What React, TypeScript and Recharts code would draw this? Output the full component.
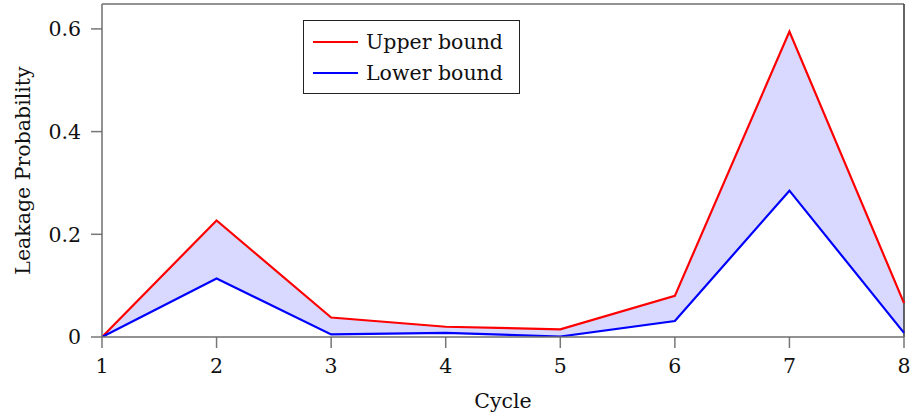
import {
  ComposedChart,
  Area,
  Line,
  XAxis,
  YAxis,
  ReferenceLine,
} from "recharts";

// values
const cycles = [1, 2, 3, 4, 5, 6, 7, 8];
const upperBound = [0, 0.227, 0.038, 0.02, 0.015, 0.08, 0.595, 0.066];
const lowerBound = [0, 0.114, 0.005, 0.008, 0.001, 0.031, 0.285, 0.008];
const yTicks = [0, 0.2, 0.4, 0.6];
const yMax = 0.6485;

const data = cycles.map((c, i) => ({
  cycle: c,
  upper: upperBound[i],
  lower: lowerBound[i],
  band: [lowerBound[i], upperBound[i]],
}));

const font = "'DejaVu Serif', serif";
const frame = "#6e6e6e";
const tickGray = "#777777";
// outward tick length, expressed in axis units (about 11px)
const xTickLen = 0.0215;
const yTickLen = 0.096;

const LegendBox = () => (
  <div
    style={{
      position: "absolute",
      left: 303,
      top: 20,
      border: "1px solid #222",
      background: "#fff",
      width: 215,
      height: 72,
      fontFamily: font,
      fontSize: 20.5,
      color: "#111",
    }}
  >
    {[
      { name: "Upper bound", color: "#ff0000" },
      { name: "Lower bound", color: "#0000ff" },
    ].map((item, i) => (
      <div
        key={item.name}
        style={{
          display: "flex",
          alignItems: "center",
          height: 31.6,
          marginTop: i === 0 ? 5 : 0,
          paddingLeft: 9,
        }}
      >
        <div style={{ width: 45, height: 2, background: item.color }} />
        <span style={{ marginLeft: 8 }}>{item.name}</span>
      </div>
    ))}
  </div>
);

const App = () => {
  return (
    <div
      style={{
        position: "absolute",
        left: 0,
        top: 0,
        width: 913,
        height: 412,
        background: "#fff",
      }}
    >
      <ComposedChart
        width={913}
        height={412}
        data={data}
        margin={{ top: 4, right: 9, left: 0, bottom: 0 }}
      >
        <XAxis
          dataKey="cycle"
          type="number"
          domain={[1, 8]}
          ticks={cycles}
          height={75}
          tickSize={10}
          tickMargin={11}
          stroke={frame}
          strokeWidth={1.5}
          tickLine={false}
          tick={{ fill: "#111", fontFamily: font, fontSize: 20.5 }}
          label={{
            value: "Cycle",
            position: "center",
            dy: 26,
            fill: "#111",
            fontFamily: font,
            fontSize: 20.5,
          }}
        />
        <YAxis
          type="number"
          domain={[0, yMax]}
          ticks={yTicks}
          width={102}
          tickSize={10}
          tickMargin={11}
          stroke={frame}
          strokeWidth={1.5}
          tickLine={false}
          allowDataOverflow
          tickFormatter={(v: number) => (v === 0 ? "0" : v.toFixed(1))}
          tick={{ fill: "#111", fontFamily: font, fontSize: 20.5 }}
          label={{
            value: "Leakage Probability",
            angle: -90,
            position: "center",
            dx: -28,
            fill: "#111",
            fontFamily: font,
            fontSize: 20.5,
          }}
        />
        {cycles.map((c) => (
          <ReferenceLine
            key={`xt-${c}`}
            segment={[
              { x: c, y: 0 },
              { x: c, y: -xTickLen },
            ]}
            stroke={tickGray}
            strokeWidth={1.5}
            ifOverflow="visible"
          />
        ))}
        {yTicks.map((v) => (
          <ReferenceLine
            key={`yt-${v}`}
            segment={[
              { x: 1 - yTickLen, y: v },
              { x: 1, y: v },
            ]}
            stroke={tickGray}
            strokeWidth={1.5}
            ifOverflow="visible"
          />
        ))}
        <ReferenceLine
          y={yMax}
          stroke={frame}
          strokeWidth={1.5}
          ifOverflow="visible"
        />
        <ReferenceLine
          x={8}
          stroke="#333"
          strokeWidth={1.5}
          ifOverflow="visible"
        />
        <Area
          dataKey="band"
          type="linear"
          stroke="none"
          fill="#d9d9ff"
          fillOpacity={1}
          isAnimationActive={false}
        />
        <Line
          dataKey="upper"
          name="Upper bound"
          type="linear"
          stroke="#ff0000"
          strokeWidth={2.2}
          dot={false}
          isAnimationActive={false}
        />
        <Line
          dataKey="lower"
          name="Lower bound"
          type="linear"
          stroke="#0000ff"
          strokeWidth={2.2}
          dot={false}
          isAnimationActive={false}
        />
      </ComposedChart>
      <LegendBox />
    </div>
  );
};

export default App;
